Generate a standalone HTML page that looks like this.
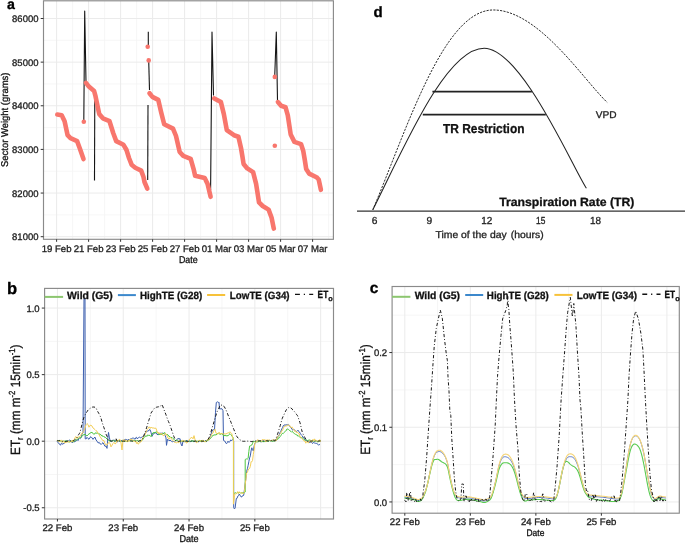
<!DOCTYPE html>
<html><head><meta charset="utf-8"><style>
html,body{margin:0;padding:0;background:#fff;}
svg{display:block;font-family:"Liberation Sans", sans-serif;text-rendering:geometricPrecision;will-change:transform;}
text{stroke-width:0.3px;}
</style></head><body>
<svg width="685" height="543" viewBox="0 0 685 543">
<rect width="685" height="543" fill="#fff"/>
<line x1="72.60" y1="0.8" x2="72.60" y2="239.3" stroke="#f4f4f4" stroke-width="0.8"/>
<line x1="104.60" y1="0.8" x2="104.60" y2="239.3" stroke="#f4f4f4" stroke-width="0.8"/>
<line x1="136.60" y1="0.8" x2="136.60" y2="239.3" stroke="#f4f4f4" stroke-width="0.8"/>
<line x1="168.60" y1="0.8" x2="168.60" y2="239.3" stroke="#f4f4f4" stroke-width="0.8"/>
<line x1="200.60" y1="0.8" x2="200.60" y2="239.3" stroke="#f4f4f4" stroke-width="0.8"/>
<line x1="232.60" y1="0.8" x2="232.60" y2="239.3" stroke="#f4f4f4" stroke-width="0.8"/>
<line x1="264.60" y1="0.8" x2="264.60" y2="239.3" stroke="#f4f4f4" stroke-width="0.8"/>
<line x1="296.60" y1="0.8" x2="296.60" y2="239.3" stroke="#f4f4f4" stroke-width="0.8"/>
<line x1="328.60" y1="0.8" x2="328.60" y2="239.3" stroke="#f4f4f4" stroke-width="0.8"/>
<line x1="43.5" y1="40.32" x2="333.4" y2="40.32" stroke="#f4f4f4" stroke-width="0.8"/>
<line x1="43.5" y1="83.96" x2="333.4" y2="83.96" stroke="#f4f4f4" stroke-width="0.8"/>
<line x1="43.5" y1="127.60" x2="333.4" y2="127.60" stroke="#f4f4f4" stroke-width="0.8"/>
<line x1="43.5" y1="171.24" x2="333.4" y2="171.24" stroke="#f4f4f4" stroke-width="0.8"/>
<line x1="43.5" y1="214.88" x2="333.4" y2="214.88" stroke="#f4f4f4" stroke-width="0.8"/>
<line x1="56.60" y1="0.8" x2="56.60" y2="239.3" stroke="#ebebeb" stroke-width="1"/>
<line x1="88.60" y1="0.8" x2="88.60" y2="239.3" stroke="#ebebeb" stroke-width="1"/>
<line x1="120.60" y1="0.8" x2="120.60" y2="239.3" stroke="#ebebeb" stroke-width="1"/>
<line x1="152.60" y1="0.8" x2="152.60" y2="239.3" stroke="#ebebeb" stroke-width="1"/>
<line x1="184.60" y1="0.8" x2="184.60" y2="239.3" stroke="#ebebeb" stroke-width="1"/>
<line x1="216.60" y1="0.8" x2="216.60" y2="239.3" stroke="#ebebeb" stroke-width="1"/>
<line x1="248.60" y1="0.8" x2="248.60" y2="239.3" stroke="#ebebeb" stroke-width="1"/>
<line x1="280.60" y1="0.8" x2="280.60" y2="239.3" stroke="#ebebeb" stroke-width="1"/>
<line x1="312.60" y1="0.8" x2="312.60" y2="239.3" stroke="#ebebeb" stroke-width="1"/>
<line x1="43.5" y1="18.50" x2="333.4" y2="18.50" stroke="#ebebeb" stroke-width="1"/>
<line x1="43.5" y1="62.14" x2="333.4" y2="62.14" stroke="#ebebeb" stroke-width="1"/>
<line x1="43.5" y1="105.78" x2="333.4" y2="105.78" stroke="#ebebeb" stroke-width="1"/>
<line x1="43.5" y1="149.42" x2="333.4" y2="149.42" stroke="#ebebeb" stroke-width="1"/>
<line x1="43.5" y1="193.06" x2="333.4" y2="193.06" stroke="#ebebeb" stroke-width="1"/>
<line x1="43.5" y1="236.70" x2="333.4" y2="236.70" stroke="#ebebeb" stroke-width="1"/>
<polyline points="83.80,121.70 84.70,11.00 86.00,82.00" stroke="#151515" stroke-width="1.1" fill="none" stroke-linejoin="round"/>
<polyline points="94.80,93.50 94.50,180.60" stroke="#151515" stroke-width="1.1" fill="none" stroke-linejoin="round"/>
<polyline points="147.70,180.00 148.00,105.00" stroke="#151515" stroke-width="1.1" fill="none" stroke-linejoin="round"/>
<polyline points="148.30,31.70 148.30,46.70" stroke="#151515" stroke-width="1.1" fill="none" stroke-linejoin="round"/>
<polyline points="148.70,60.00 149.50,90.00" stroke="#151515" stroke-width="1.1" fill="none" stroke-linejoin="round"/>
<polyline points="210.60,190.00 212.00,32.00 213.50,95.50" stroke="#151515" stroke-width="1.1" fill="none" stroke-linejoin="round"/>
<polyline points="274.70,77.00 276.30,32.00 277.50,100.00" stroke="#151515" stroke-width="1.1" fill="none" stroke-linejoin="round"/>
<polyline points="57.30,114.60 61.70,115.30 64.60,121.20 67.60,135.20 70.50,138.20 77.10,141.10 80.10,149.20 83.50,159.10" stroke="#F8766D" stroke-width="4.6" fill="none" stroke-linejoin="round" stroke-linecap="round"/>
<polyline points="86.00,82.90 88.90,86.60 94.10,91.00 95.50,96.20 99.20,113.90 102.90,118.30 109.50,121.20 113.20,133.00 116.20,141.10 123.50,144.80 126.50,150.00 129.00,158.00 131.60,164.70 135.30,167.70 141.20,170.60 143.50,177.00 144.50,182.00 147.30,188.60" stroke="#F8766D" stroke-width="4.6" fill="none" stroke-linejoin="round" stroke-linecap="round"/>
<polyline points="149.50,93.30 152.40,96.90 158.30,99.90 161.20,112.40 164.20,124.20 173.00,128.60 176.00,136.00 179.70,152.00 183.30,155.90 190.70,158.80 193.60,169.10 195.10,175.80 204.70,178.00 207.60,183.90 210.60,196.80" stroke="#F8766D" stroke-width="4.6" fill="none" stroke-linejoin="round" stroke-linecap="round"/>
<polyline points="214.30,98.40 220.90,102.10 223.80,113.90 226.80,130.10 234.00,135.20 238.40,136.70 241.00,148.00 242.50,157.00 243.60,164.00 247.30,168.40 253.10,172.10 256.10,183.90 259.00,202.30 262.70,206.00 268.60,209.60 271.60,217.70 273.80,228.60" stroke="#F8766D" stroke-width="4.6" fill="none" stroke-linejoin="round" stroke-linecap="round"/>
<polyline points="277.90,102.10 281.10,105.80 285.50,107.20 287.80,115.30 290.70,134.50 294.40,141.90 301.00,144.10 303.20,150.70 304.80,160.00 306.20,169.10 309.10,173.60 316.50,177.20 318.70,179.50 320.90,189.80" stroke="#F8766D" stroke-width="4.6" fill="none" stroke-linejoin="round" stroke-linecap="round"/>
<circle cx="83.8" cy="121.7" r="2.3" fill="#F8766D"/>
<circle cx="147.7" cy="46.7" r="2.3" fill="#F8766D"/>
<circle cx="148.7" cy="60.4" r="2.3" fill="#F8766D"/>
<circle cx="274.8" cy="76.9" r="2.3" fill="#F8766D"/>
<circle cx="274.8" cy="145.8" r="2.3" fill="#F8766D"/>
<rect x="43.5" y="0.8" width="289.90" height="238.50" fill="none" stroke="#8a8a8a" stroke-width="1.15"/>
<line x1="40.70" y1="18.50" x2="43.50" y2="18.50" stroke="#333" stroke-width="1"/>
<text x="38.50" y="22.20" text-anchor="end" font-size="9.5" fill="#222" stroke="#222">86000</text>
<line x1="40.70" y1="62.14" x2="43.50" y2="62.14" stroke="#333" stroke-width="1"/>
<text x="38.50" y="65.84" text-anchor="end" font-size="9.5" fill="#222" stroke="#222">85000</text>
<line x1="40.70" y1="105.78" x2="43.50" y2="105.78" stroke="#333" stroke-width="1"/>
<text x="38.50" y="109.48" text-anchor="end" font-size="9.5" fill="#222" stroke="#222">84000</text>
<line x1="40.70" y1="149.42" x2="43.50" y2="149.42" stroke="#333" stroke-width="1"/>
<text x="38.50" y="153.12" text-anchor="end" font-size="9.5" fill="#222" stroke="#222">83000</text>
<line x1="40.70" y1="193.06" x2="43.50" y2="193.06" stroke="#333" stroke-width="1"/>
<text x="38.50" y="196.76" text-anchor="end" font-size="9.5" fill="#222" stroke="#222">82000</text>
<line x1="40.70" y1="236.70" x2="43.50" y2="236.70" stroke="#333" stroke-width="1"/>
<text x="38.50" y="240.40" text-anchor="end" font-size="9.5" fill="#222" stroke="#222">81000</text>
<line x1="56.60" y1="239.3" x2="56.60" y2="241.8" stroke="#333" stroke-width="1"/>
<text x="56.60" y="251.9" text-anchor="middle" font-size="9.6" fill="#222" stroke="#222">19 Feb</text>
<line x1="88.60" y1="239.3" x2="88.60" y2="241.8" stroke="#333" stroke-width="1"/>
<text x="88.60" y="251.9" text-anchor="middle" font-size="9.6" fill="#222" stroke="#222">21 Feb</text>
<line x1="120.60" y1="239.3" x2="120.60" y2="241.8" stroke="#333" stroke-width="1"/>
<text x="120.60" y="251.9" text-anchor="middle" font-size="9.6" fill="#222" stroke="#222">23 Feb</text>
<line x1="152.60" y1="239.3" x2="152.60" y2="241.8" stroke="#333" stroke-width="1"/>
<text x="152.60" y="251.9" text-anchor="middle" font-size="9.6" fill="#222" stroke="#222">25 Feb</text>
<line x1="184.60" y1="239.3" x2="184.60" y2="241.8" stroke="#333" stroke-width="1"/>
<text x="184.60" y="251.9" text-anchor="middle" font-size="9.6" fill="#222" stroke="#222">27 Feb</text>
<line x1="216.60" y1="239.3" x2="216.60" y2="241.8" stroke="#333" stroke-width="1"/>
<text x="216.60" y="251.9" text-anchor="middle" font-size="9.6" fill="#222" stroke="#222">01 Mar</text>
<line x1="248.60" y1="239.3" x2="248.60" y2="241.8" stroke="#333" stroke-width="1"/>
<text x="248.60" y="251.9" text-anchor="middle" font-size="9.6" fill="#222" stroke="#222">03 Mar</text>
<line x1="280.60" y1="239.3" x2="280.60" y2="241.8" stroke="#333" stroke-width="1"/>
<text x="280.60" y="251.9" text-anchor="middle" font-size="9.6" fill="#222" stroke="#222">05 Mar</text>
<line x1="312.60" y1="239.3" x2="312.60" y2="241.8" stroke="#333" stroke-width="1"/>
<text x="312.60" y="251.9" text-anchor="middle" font-size="9.6" fill="#222" stroke="#222">07 Mar</text>
<text x="178.92" y="262.55" font-size="9.90" font-weight="normal" textLength="18.77" lengthAdjust="spacingAndGlyphs" fill="#111" stroke="#111">Date</text>
<text x="6.92" y="9.00" font-size="14.20" font-weight="bold" fill="#000" stroke="#000">a</text>
<text transform="translate(8.0,119.8) rotate(-90)" text-anchor="middle" font-size="9.8" fill="#111" stroke="#111" textLength="94.5" lengthAdjust="spacingAndGlyphs">Sector Weight (grams)</text>
<line x1="357" y1="211.2" x2="685" y2="211.2" stroke="#333" stroke-width="1.3"/>
<path d="M372.80,209.80 C407.95,126.41 443.81,9.97 493.32,9.97 C538.58,9.97 584.10,80.59 607.20,102.40" fill="none" stroke="#222" stroke-width="0.95" stroke-dasharray="2.2,1.2"/>
<path d="M372.80,209.80 C402.80,150.27 445.37,48.17 484.18,48.17 C521.37,48.17 573.63,169.50 586.40,188.30" fill="none" stroke="#222" stroke-width="1.05"/>
<line x1="432.4" y1="91.6" x2="531.9" y2="91.6" stroke="#222" stroke-width="1.8"/>
<line x1="422.8" y1="114.7" x2="545.8" y2="114.7" stroke="#222" stroke-width="1.8"/>
<text x="443.02" y="132.85" font-size="13.00" font-weight="bold" textLength="81.46" lengthAdjust="spacingAndGlyphs" fill="#111" stroke="#111">TR Restriction</text>
<text x="499.18" y="205.50" font-size="11.95" font-weight="bold" textLength="135.21" lengthAdjust="spacingAndGlyphs" fill="#111" stroke="#111">Transpiration Rate (TR)</text>
<text x="595.84" y="117.55" font-size="9.70" font-weight="normal" textLength="20.84" lengthAdjust="spacingAndGlyphs" fill="#222" stroke="#222">VPD</text>
<text x="371.84" y="223.55" font-size="10.20" font-weight="normal" fill="#222" stroke="#222">6</text>
<text x="426.50" y="223.55" font-size="10.20" font-weight="normal" fill="#222" stroke="#222">9</text>
<text x="481.16" y="223.55" font-size="10.20" font-weight="normal" textLength="11.06" lengthAdjust="spacingAndGlyphs" fill="#222" stroke="#222">12</text>
<text x="536.00" y="223.55" font-size="10.20" font-weight="normal" textLength="9.33" lengthAdjust="spacingAndGlyphs" fill="#222" stroke="#222">15</text>
<text x="589.98" y="223.55" font-size="10.20" font-weight="normal" textLength="11.04" lengthAdjust="spacingAndGlyphs" fill="#222" stroke="#222">18</text>
<text x="435.58" y="238.45" font-size="10.00" font-weight="normal" textLength="108.05" lengthAdjust="spacingAndGlyphs" fill="#222" stroke="#222">Time of the day <tspan dx="1.3">(hours)</tspan></text>
<text x="373.50" y="17.00" font-size="15.00" font-weight="bold" fill="#000" stroke="#000">d</text>
<line x1="90.35" y1="288.4" x2="90.35" y2="519.0" stroke="#f4f4f4" stroke-width="0.8"/>
<line x1="156.15" y1="288.4" x2="156.15" y2="519.0" stroke="#f4f4f4" stroke-width="0.8"/>
<line x1="221.95" y1="288.4" x2="221.95" y2="519.0" stroke="#f4f4f4" stroke-width="0.8"/>
<line x1="287.75" y1="288.4" x2="287.75" y2="519.0" stroke="#f4f4f4" stroke-width="0.8"/>
<line x1="44.6" y1="341.35" x2="333.5" y2="341.35" stroke="#f4f4f4" stroke-width="0.8"/>
<line x1="44.6" y1="407.92" x2="333.5" y2="407.92" stroke="#f4f4f4" stroke-width="0.8"/>
<line x1="44.6" y1="474.48" x2="333.5" y2="474.48" stroke="#f4f4f4" stroke-width="0.8"/>
<line x1="57.45" y1="288.4" x2="57.45" y2="519.0" stroke="#ebebeb" stroke-width="1"/>
<line x1="123.25" y1="288.4" x2="123.25" y2="519.0" stroke="#ebebeb" stroke-width="1"/>
<line x1="189.05" y1="288.4" x2="189.05" y2="519.0" stroke="#ebebeb" stroke-width="1"/>
<line x1="254.85" y1="288.4" x2="254.85" y2="519.0" stroke="#ebebeb" stroke-width="1"/>
<line x1="320.65" y1="288.4" x2="320.65" y2="519.0" stroke="#ebebeb" stroke-width="1"/>
<line x1="44.6" y1="308.07" x2="333.5" y2="308.07" stroke="#ebebeb" stroke-width="1"/>
<line x1="44.6" y1="374.63" x2="333.5" y2="374.63" stroke="#ebebeb" stroke-width="1"/>
<line x1="44.6" y1="441.20" x2="333.5" y2="441.20" stroke="#ebebeb" stroke-width="1"/>
<line x1="44.6" y1="507.76" x2="333.5" y2="507.76" stroke="#ebebeb" stroke-width="1"/>
<line x1="437.56" y1="286.5" x2="437.56" y2="513.2" stroke="#f4f4f4" stroke-width="0.8"/>
<line x1="503.10" y1="286.5" x2="503.10" y2="513.2" stroke="#f4f4f4" stroke-width="0.8"/>
<line x1="568.62" y1="286.5" x2="568.62" y2="513.2" stroke="#f4f4f4" stroke-width="0.8"/>
<line x1="634.15" y1="286.5" x2="634.15" y2="513.2" stroke="#f4f4f4" stroke-width="0.8"/>
<line x1="392.1" y1="464.60" x2="679.3" y2="464.60" stroke="#f4f4f4" stroke-width="0.8"/>
<line x1="392.1" y1="389.90" x2="679.3" y2="389.90" stroke="#f4f4f4" stroke-width="0.8"/>
<line x1="392.1" y1="315.20" x2="679.3" y2="315.20" stroke="#f4f4f4" stroke-width="0.8"/>
<line x1="404.80" y1="286.5" x2="404.80" y2="513.2" stroke="#ebebeb" stroke-width="1"/>
<line x1="470.33" y1="286.5" x2="470.33" y2="513.2" stroke="#ebebeb" stroke-width="1"/>
<line x1="535.86" y1="286.5" x2="535.86" y2="513.2" stroke="#ebebeb" stroke-width="1"/>
<line x1="601.39" y1="286.5" x2="601.39" y2="513.2" stroke="#ebebeb" stroke-width="1"/>
<line x1="666.92" y1="286.5" x2="666.92" y2="513.2" stroke="#ebebeb" stroke-width="1"/>
<line x1="392.1" y1="501.95" x2="679.3" y2="501.95" stroke="#ebebeb" stroke-width="1"/>
<line x1="392.1" y1="427.25" x2="679.3" y2="427.25" stroke="#ebebeb" stroke-width="1"/>
<line x1="392.1" y1="352.55" x2="679.3" y2="352.55" stroke="#ebebeb" stroke-width="1"/>
<polyline points="57.00,441.22 57.70,442.14 58.40,442.93 59.10,443.90 59.80,444.23 60.50,445.26 61.33,443.32 62.17,443.77 63.00,444.30 64.00,443.02 65.00,442.72 65.80,441.00 66.60,441.34 67.40,440.64 68.20,440.88 69.00,440.63 69.75,440.00 70.50,440.74 71.25,441.23 72.00,442.75 72.75,442.35 73.50,441.14 74.25,442.16 75.00,440.85 75.75,441.34 76.50,440.08 77.25,439.48 78.00,440.67 78.75,438.73 79.50,437.99 80.25,438.62 81.00,437.67 82.00,434.12 83.00,432.83 84.00,298.57 85.00,298.82 85.20,438.77 86.10,438.94 87.00,437.34 88.00,438.59 89.00,439.21 90.00,437.39 91.00,436.75 92.00,437.90 93.00,439.36 94.00,437.97 95.00,437.14 96.00,439.94 97.00,441.11 98.00,442.82 99.00,442.71 100.00,443.16 101.00,444.57 102.00,443.47 103.00,442.67 104.00,444.47 105.00,446.37 106.00,445.95 107.00,448.36 107.75,438.89 108.50,432.45 109.25,437.12 110.00,440.13 110.71,441.52 111.43,440.76 112.14,441.14 112.86,440.12 113.57,440.18 114.29,440.43 115.00,441.82 115.71,440.45 116.43,441.46 117.14,441.77 117.86,441.80 118.57,440.72 119.29,440.74 120.00,441.04 120.72,441.37 121.44,440.04 122.16,441.07 122.88,441.04 123.59,441.02 124.31,439.42 125.03,440.93 125.75,439.26 126.47,439.59 127.19,439.95 127.91,440.38 128.62,439.21 129.34,440.14 130.06,439.33 130.78,438.79 131.50,438.67 132.22,438.29 132.94,437.99 133.66,437.99 134.38,438.84 135.09,439.27 135.81,437.64 136.53,437.31 137.25,438.88 137.97,437.94 138.69,437.58 139.41,437.15 140.12,437.67 140.84,437.96 141.56,437.17 142.28,436.98 143.00,436.20 143.75,436.50 144.50,433.66 145.25,433.24 146.00,432.61 146.80,430.74 147.60,431.22 148.40,431.01 149.20,429.83 150.00,429.52 151.00,432.29 152.00,436.38 153.00,434.12 154.00,433.62 155.00,432.63 156.00,432.92 157.00,434.40 158.00,434.63 158.75,434.61 159.50,433.42 160.25,433.23 161.00,433.41 161.75,433.21 162.50,433.12 163.25,433.58 164.00,433.36 165.00,435.28 166.00,437.88 166.50,445.33 167.50,439.23 168.25,440.00 169.00,440.71 170.00,440.26 171.00,440.59 171.75,441.63 172.50,441.91 173.25,441.13 174.00,442.01 174.80,441.39 175.60,440.65 176.40,440.00 177.20,439.57 178.00,438.25 179.00,439.12 180.00,438.61 181.00,443.97 182.00,445.99 183.00,441.34 183.75,440.63 184.50,441.80 185.25,441.27 186.00,441.15 186.70,440.12 187.40,441.08 188.10,440.55 188.80,441.31 189.50,440.93 190.20,441.57 190.90,441.27 191.60,441.54 192.30,440.73 193.00,441.26 193.70,441.43 194.40,441.59 195.10,440.73 195.80,441.62 196.50,441.67 197.20,441.34 197.90,441.86 198.60,441.82 199.30,441.03 200.00,441.05 200.70,440.40 201.40,441.61 202.10,441.79 202.80,440.96 203.50,441.34 204.20,441.40 204.90,441.41 205.60,440.41 206.30,441.50 207.00,441.15 207.75,440.30 208.50,438.86 209.25,438.22 210.00,437.49 211.00,434.25 212.00,431.40 212.83,429.82 213.67,429.72 214.50,429.89 215.50,412.27 216.30,402.49 217.50,401.83 218.25,402.49 219.00,402.18 219.50,408.95 220.00,409.01 221.00,408.70 222.00,408.84 223.00,410.67 223.50,440.43 224.25,440.95 225.00,441.16 225.75,442.94 226.50,443.78 227.25,442.70 228.00,441.16 229.00,442.53 230.00,441.23 230.75,439.85 231.50,440.83 232.50,439.60 233.70,440.84 233.70,507.61 234.40,508.90 235.10,508.07 236.30,498.56 237.05,498.33 237.80,496.12 238.55,495.66 239.30,494.01 240.03,495.18 240.77,496.59 241.50,497.07 242.23,495.85 242.97,496.06 243.70,495.26 244.45,489.61 245.20,484.06 245.90,478.22 246.60,471.51 247.37,468.79 248.13,465.38 248.90,461.30 249.60,457.88 250.30,455.91 251.05,450.95 251.80,447.79 252.55,449.72 253.30,450.91 254.05,446.40 254.80,443.63 256.00,441.70 256.70,440.78 257.40,440.88 258.10,440.51 258.80,440.62 259.50,441.85 260.20,440.78 260.90,441.83 261.60,441.74 262.30,441.17 263.00,440.57 263.70,441.87 264.40,440.99 265.10,440.85 265.80,440.67 266.50,441.87 267.20,440.99 267.90,440.62 268.60,440.96 269.30,440.32 270.00,441.22 270.71,440.79 271.42,440.41 272.13,441.17 272.84,441.14 273.56,439.57 274.27,440.39 274.98,439.82 275.69,440.89 276.40,440.51 277.12,438.14 277.84,436.78 278.56,435.18 279.28,435.28 280.00,432.63 280.85,431.27 281.70,429.10 282.55,427.49 283.40,425.49 284.20,425.64 285.00,424.41 285.80,425.47 286.60,424.54 287.40,424.86 288.20,424.41 288.98,425.22 289.77,426.52 290.55,427.29 291.33,427.98 292.12,429.56 292.90,430.16 293.64,429.32 294.38,429.85 295.11,430.37 295.85,431.35 296.59,431.45 297.32,430.98 298.06,430.18 298.80,431.70 299.50,432.01 300.20,433.22 300.90,434.39 301.60,435.20 302.30,435.87 303.00,437.58 303.70,437.57 304.40,438.53 305.10,440.29 305.80,440.05 306.58,440.53 307.37,441.79 308.15,440.72 308.93,442.41 309.72,442.45 310.50,442.28 311.25,442.12 312.00,443.11 312.75,443.44 313.50,442.16 314.25,442.86 315.00,443.09 315.71,443.34 316.43,443.38 317.14,443.40 317.86,444.53 318.57,445.28 319.29,444.28 320.00,444.91" stroke="#3A5DAE" stroke-width="1.0" fill="none" stroke-linejoin="round" />
<polyline points="57.00,440.63 57.73,440.47 58.45,440.90 59.18,440.59 59.91,440.48 60.64,440.98 61.36,441.72 62.09,441.58 62.82,441.55 63.55,440.82 64.27,441.28 65.00,440.94 65.73,440.81 66.45,440.74 67.18,440.92 67.91,441.94 68.64,441.82 69.36,441.82 70.09,441.83 70.82,441.00 71.55,441.19 72.27,441.66 73.00,441.82 73.75,441.62 74.50,441.28 75.25,439.80 76.00,440.15 76.80,439.84 77.60,439.21 78.40,438.35 79.20,438.36 80.00,437.43 80.75,437.86 81.50,437.01 82.25,435.82 83.00,434.72 84.00,435.07 85.00,434.10 86.00,435.29 87.00,435.99 88.00,434.76 89.00,433.88 90.00,433.39 91.00,432.40 92.00,432.53 93.00,433.23 94.00,434.44 95.00,433.11 96.00,432.86 97.00,433.43 98.00,432.69 99.00,433.80 100.00,434.46 101.00,434.78 102.00,436.20 103.00,435.82 104.00,436.88 105.00,437.08 106.00,438.19 107.00,438.69 108.00,439.80 109.00,440.85 110.00,440.75 110.71,441.08 111.42,441.57 112.13,440.44 112.84,440.39 113.56,440.62 114.27,441.37 114.98,441.16 115.69,440.63 116.40,440.76 117.11,440.55 117.82,440.94 118.53,440.36 119.24,441.28 119.96,441.55 120.67,441.64 121.38,441.33 122.09,441.64 122.80,440.33 123.51,440.70 124.22,441.65 124.93,441.39 125.64,440.87 126.36,441.62 127.07,441.17 127.78,441.45 128.49,440.71 129.20,440.57 129.91,440.92 130.62,440.49 131.33,440.83 132.04,441.65 132.76,440.76 133.47,440.31 134.18,440.36 134.89,440.54 135.60,441.40 136.31,440.81 137.02,440.71 137.73,440.44 138.44,441.67 139.16,440.89 139.87,440.59 140.58,440.38 141.29,440.38 142.00,440.54 143.00,439.25 143.75,437.76 144.50,436.86 145.25,436.74 146.00,435.65 146.75,436.45 147.50,434.97 148.25,435.29 149.00,435.38 150.00,435.37 151.00,436.68 152.00,434.47 153.00,432.64 154.00,432.87 155.00,432.35 156.00,432.39 157.00,431.65 158.00,433.55 159.00,434.46 160.00,434.50 161.00,434.34 162.00,434.16 163.00,433.64 164.00,433.09 165.00,432.62 166.00,434.52 167.00,434.50 168.00,434.87 169.00,436.60 170.00,436.59 171.00,437.69 172.00,437.36 173.00,438.56 174.00,439.22 175.00,440.41 175.75,440.59 176.50,440.49 177.25,440.18 178.00,440.60 178.71,441.52 179.41,441.56 180.12,441.59 180.83,440.77 181.54,441.22 182.24,441.42 182.95,441.20 183.66,441.44 184.37,441.04 185.07,441.22 185.78,441.26 186.49,440.68 187.20,441.59 187.90,441.64 188.61,440.40 189.32,441.66 190.02,441.65 190.73,441.24 191.44,440.36 192.15,441.56 192.85,440.48 193.56,441.66 194.27,441.23 194.98,440.38 195.68,440.53 196.39,441.19 197.10,441.10 197.80,441.35 198.51,441.60 199.22,440.61 199.93,440.30 200.63,441.59 201.34,440.32 202.05,441.53 202.76,440.46 203.46,441.43 204.17,441.40 204.88,441.53 205.59,441.07 206.29,441.53 207.00,440.58 207.71,440.67 208.43,439.62 209.14,439.83 209.86,439.10 210.57,438.10 211.29,437.61 212.00,436.34 213.00,435.35 214.00,435.13 215.00,434.73 216.00,435.01 217.00,434.15 218.00,432.99 219.00,433.56 220.00,434.37 221.00,434.03 222.00,433.31 223.00,435.22 224.00,435.96 225.00,435.17 226.00,436.06 227.00,435.58 228.00,435.90 229.00,434.49 230.00,433.63 231.00,434.73 232.00,436.15 233.00,437.43 233.50,440.46 233.50,492.97 234.23,493.34 234.95,492.82 235.68,492.71 236.41,493.30 237.13,493.19 237.86,492.19 238.59,493.33 239.31,492.37 240.04,492.52 240.77,493.27 241.49,492.69 242.22,493.22 242.95,492.33 243.67,493.32 244.40,492.35 245.20,492.01 245.20,459.59 245.92,459.00 246.65,458.91 247.38,459.04 248.10,458.39 248.85,451.51 249.60,446.04 250.33,445.86 251.07,445.28 251.80,445.10 252.55,443.33 253.30,441.31 254.15,441.34 255.00,441.99 255.71,441.28 256.43,441.84 257.14,442.13 257.86,441.61 258.57,441.66 259.29,441.55 260.00,441.11 260.71,441.94 261.43,441.29 262.14,441.90 262.86,441.03 263.57,441.80 264.29,441.67 265.00,441.41 265.71,441.15 266.43,440.71 267.14,441.58 267.86,440.99 268.57,441.39 269.29,440.63 270.00,440.54 270.71,440.61 271.43,441.52 272.14,440.62 272.86,441.62 273.57,440.86 274.29,441.12 275.00,440.79 275.71,440.60 276.43,439.29 277.14,439.15 277.86,439.32 278.57,437.69 279.29,437.79 280.00,436.76 280.80,435.72 281.60,434.33 282.40,433.33 283.20,433.63 284.00,432.46 284.72,431.80 285.44,431.19 286.16,430.77 286.88,429.04 287.60,429.02 288.45,429.42 289.30,430.05 290.15,431.09 291.00,431.36 291.75,432.16 292.50,431.46 293.25,432.71 294.00,433.25 294.75,433.84 295.50,434.17 296.25,434.96 297.00,434.72 297.75,436.10 298.50,435.87 299.25,436.64 300.00,437.56 300.73,437.66 301.45,437.48 302.18,437.75 302.90,438.26 303.62,439.05 304.35,439.95 305.07,440.18 305.80,439.86 306.57,439.99 307.35,440.69 308.12,440.07 308.90,440.38 309.68,439.94 310.45,440.31 311.23,440.93 312.00,441.27 312.71,441.18 313.42,440.84 314.12,441.68 314.83,441.24 315.54,440.60 316.25,440.49 316.96,441.78 317.67,441.82 318.38,441.74 319.08,441.31 319.79,440.92 320.50,440.63" stroke="#4CC63F" stroke-width="1.0" fill="none" stroke-linejoin="round" />
<polyline points="57.00,440.32 57.75,441.20 58.50,440.83 59.25,441.52 60.00,441.66 60.75,440.29 61.50,440.23 62.25,442.46 63.00,441.04 63.75,441.06 64.50,443.12 65.25,441.84 66.00,442.87 66.70,441.84 67.40,442.16 68.10,440.79 68.80,441.95 69.50,442.46 70.20,441.46 70.90,441.93 71.60,441.65 72.30,439.97 73.00,441.67 74.00,439.74 75.00,437.48 76.00,436.53 77.00,438.45 77.75,436.93 78.50,437.07 79.25,436.98 80.00,436.06 80.75,435.72 81.50,433.48 82.25,433.66 83.00,431.86 84.00,430.63 85.00,427.99 86.00,424.70 87.00,423.55 88.00,424.51 89.00,427.21 90.00,425.33 91.00,425.33 92.00,425.98 93.00,428.02 94.00,428.70 95.00,429.61 96.00,430.72 97.00,431.22 98.00,433.55 99.00,434.47 100.00,436.62 101.00,437.93 102.00,439.78 103.00,440.45 104.00,440.62 105.00,443.94 106.00,444.71 107.00,445.05 108.00,443.18 109.00,442.56 110.00,443.25 111.00,446.86 112.00,445.19 113.00,443.44 114.00,442.36 115.00,443.92 116.00,443.27 117.00,439.93 117.75,441.53 118.50,440.27 119.25,439.34 120.00,439.46 121.00,442.70 122.00,449.97 123.00,439.81 123.73,441.21 124.45,439.64 125.18,441.30 125.91,440.20 126.64,441.54 127.36,441.70 128.09,440.38 128.82,441.57 129.55,439.69 130.27,438.99 131.00,440.26 131.80,439.18 132.60,440.01 133.40,440.96 134.20,441.89 135.00,441.11 135.75,441.06 136.50,443.46 137.25,442.27 138.00,444.19 138.75,443.78 139.50,442.18 140.25,442.15 141.00,442.05 142.00,439.87 143.00,437.25 143.75,435.90 144.50,434.81 145.25,434.40 146.00,432.02 147.00,429.82 148.00,428.57 148.75,427.07 149.50,426.98 150.25,428.49 151.00,427.05 152.00,428.13 153.00,427.73 154.00,428.28 155.00,428.21 156.00,428.25 157.00,431.30 158.00,433.34 159.00,432.36 160.00,434.33 161.00,433.41 162.00,433.47 163.00,435.62 164.00,435.54 165.00,433.62 166.00,433.76 167.00,435.86 168.00,437.96 169.00,439.20 170.00,437.35 171.00,437.89 172.00,439.74 173.00,440.53 174.00,441.65 175.00,442.51 175.75,442.53 176.50,443.00 177.25,442.11 178.00,442.18 178.75,442.83 179.50,440.52 180.25,441.56 181.00,441.61 181.75,440.51 182.50,440.28 183.25,441.79 184.00,440.32 185.00,441.19 186.00,442.83 187.00,443.01 188.00,440.96 189.00,440.04 190.00,438.57 191.00,437.87 192.00,437.34 193.00,438.92 194.00,435.64 195.00,439.58 196.00,442.39 196.80,442.80 197.60,441.47 198.40,440.69 199.20,440.21 200.00,441.08 200.70,440.20 201.40,441.80 202.10,441.88 202.80,440.18 203.50,440.42 204.20,441.80 204.90,441.37 205.60,441.80 206.30,440.60 207.00,440.04 207.75,439.71 208.50,440.26 209.25,438.16 210.00,437.60 210.75,436.28 211.50,434.79 212.25,433.26 213.00,433.09 214.00,430.36 215.00,429.21 216.00,433.15 217.00,433.49 218.00,434.27 219.00,432.33 220.00,433.17 221.00,434.11 222.00,433.28 223.00,434.14 224.00,433.88 225.00,433.92 226.00,434.05 227.00,433.20 228.00,433.09 229.00,432.54 230.00,431.88 231.00,432.73 231.75,433.70 232.50,436.81 233.40,439.82 233.40,504.15 234.60,495.50 234.80,493.90 235.54,493.83 236.28,493.84 237.02,493.00 237.75,491.53 238.49,493.44 239.23,491.95 239.97,492.28 240.71,493.22 241.45,492.86 242.18,492.58 242.92,493.94 243.66,493.09 244.40,492.39 245.20,484.06 245.90,479.74 246.60,472.84 247.35,472.51 248.10,470.26 248.85,468.74 249.60,468.49 250.35,466.27 251.10,461.65 251.80,461.81 252.50,460.70 253.30,454.50 254.05,450.09 254.80,443.52 256.00,441.33 256.70,441.92 257.40,439.78 258.10,440.33 258.80,440.30 259.50,440.95 260.20,440.65 260.90,440.75 261.60,441.52 262.30,439.48 263.00,439.59 263.70,439.75 264.40,439.72 265.10,439.55 265.80,441.88 266.50,441.55 267.20,439.52 267.90,440.58 268.60,440.07 269.30,440.04 270.00,440.11 270.75,440.88 271.50,440.73 272.25,440.14 273.00,439.70 273.75,440.05 274.50,439.52 275.25,440.64 276.00,441.06 276.80,438.89 277.60,436.81 278.40,435.76 279.20,434.97 280.00,434.27 280.80,433.33 281.60,430.89 282.40,430.58 283.20,428.72 284.00,426.82 284.84,426.21 285.68,426.07 286.52,426.15 287.36,424.95 288.20,425.20 288.96,425.26 289.72,425.36 290.48,426.77 291.24,427.85 292.00,426.89 292.71,428.38 293.43,428.95 294.14,430.70 294.86,431.42 295.57,430.53 296.29,432.46 297.00,432.76 297.71,432.24 298.43,433.62 299.14,433.59 299.86,436.24 300.57,436.71 301.29,438.15 302.00,438.76 302.76,439.44 303.52,440.61 304.28,441.17 305.04,440.97 305.80,443.23 306.64,441.51 307.48,441.67 308.32,443.11 309.16,441.02 310.00,440.94 310.74,440.60 311.49,442.27 312.23,440.09 312.97,439.33 313.71,441.10 314.46,438.87 315.20,440.39 315.96,440.17 316.71,440.80 317.47,441.32 318.23,440.56 318.99,441.35 319.74,439.58 320.50,441.70" stroke="#F4CF5A" stroke-width="1.0" fill="none" stroke-linejoin="round" />
<polyline points="57.00,440.65 57.73,440.78 58.45,440.71 59.18,440.66 59.91,440.59 60.64,440.98 61.36,441.04 62.09,441.26 62.82,441.19 63.55,441.45 64.27,441.32 65.00,441.63 65.75,441.56 66.50,441.32 67.25,441.27 68.00,441.26 68.75,440.95 69.50,441.00 70.25,441.07 71.00,440.75 71.75,440.88 72.50,440.79 73.25,440.78 74.00,440.46 74.75,439.54 75.50,439.11 76.25,438.42 77.00,437.51 77.75,436.05 78.50,434.81 79.25,433.78 80.00,432.40 81.00,428.46 82.00,424.09 83.00,420.37 84.00,417.05 85.00,414.94 86.00,413.20 87.00,411.75 88.00,410.06 88.75,409.46 89.50,408.87 90.25,408.30 91.00,407.77 91.75,407.17 92.50,407.09 93.25,407.08 94.00,406.81 95.00,407.48 96.00,407.80 97.00,410.15 98.00,412.04 98.90,413.55 99.80,415.51 100.70,417.12 102.00,421.83 103.00,424.96 104.00,427.81 105.00,430.82 106.00,434.15 107.00,436.13 108.00,439.78 109.00,440.60 110.00,440.78 110.80,440.87 111.60,441.18 112.40,441.10 113.20,440.92 114.00,440.92 115.00,439.68 116.00,438.30 117.00,441.21 117.73,440.82 118.45,440.93 119.18,441.11 119.91,440.97 120.64,441.23 121.36,440.92 122.09,441.22 122.82,441.24 123.55,441.13 124.27,441.22 125.00,441.02 125.71,441.17 126.43,441.18 127.14,441.04 127.86,440.99 128.57,441.10 129.29,440.97 130.00,440.79 130.71,441.08 131.43,440.90 132.14,440.97 132.86,441.14 133.57,440.86 134.29,440.73 135.00,440.76 135.71,441.00 136.43,440.93 137.14,440.86 137.86,440.95 138.57,441.20 139.29,440.92 140.00,440.94 141.00,440.68 142.00,440.09 142.75,438.15 143.50,436.47 144.25,434.73 145.00,432.82 145.75,430.40 146.50,427.88 147.25,425.63 148.00,422.94 148.75,420.57 149.50,418.25 150.25,415.76 151.00,412.99 151.80,411.95 152.60,410.72 153.40,409.63 154.20,408.58 155.00,407.64 155.71,407.65 156.43,407.24 157.14,406.94 157.86,407.02 158.57,406.76 159.29,406.62 160.00,406.88 161.00,405.47 162.00,404.57 163.00,406.95 164.00,409.71 165.00,412.22 166.00,414.82 167.00,417.81 167.75,419.94 168.50,421.59 169.25,423.23 170.00,425.14 171.00,428.18 172.00,431.03 173.00,433.99 174.00,436.80 175.00,439.14 176.00,441.30 176.70,441.51 177.41,441.54 178.11,441.30 178.82,441.49 179.52,441.25 180.23,441.20 180.93,441.45 181.64,441.40 182.34,441.59 183.05,441.49 183.75,441.50 184.45,441.20 185.16,441.49 185.86,441.16 186.57,441.35 187.27,441.53 187.98,441.55 188.68,441.54 189.39,441.31 190.09,441.37 190.80,441.43 191.50,441.10 192.20,441.43 192.91,441.47 193.61,441.23 194.32,441.35 195.02,441.20 195.73,441.07 196.43,441.25 197.14,440.96 197.84,441.26 198.55,441.40 199.25,441.07 199.95,441.32 200.66,440.94 201.36,441.24 202.07,441.00 202.77,441.29 203.48,441.07 204.18,441.26 204.89,440.84 205.59,440.78 206.30,441.12 207.00,441.09 208.00,439.54 209.00,437.77 210.00,434.79 211.00,431.89 212.00,428.25 213.00,425.20 214.00,421.67 215.00,418.26 216.00,415.15 217.00,411.95 218.00,409.78 219.00,408.07 220.00,405.32 221.00,405.24 222.00,404.98 223.00,405.74 224.00,406.29 225.00,407.99 226.00,409.96 227.00,412.26 228.00,414.96 229.00,417.32 230.00,419.85 231.00,422.30 232.00,424.99 233.00,427.44 234.00,429.85 235.00,432.33 236.00,435.00 237.00,436.70 238.00,438.00 239.00,438.83 240.00,439.87 241.00,440.35 242.00,441.01 242.75,441.27 243.50,441.31 244.25,441.23 245.00,441.38 245.75,441.29 246.50,441.20 247.25,441.06 248.00,441.24 248.80,441.17 249.60,441.30 250.40,441.43 251.20,441.50 252.00,441.67 252.75,441.35 253.50,441.33 254.25,441.38 255.00,440.88 255.72,441.02 256.44,440.92 257.16,440.73 257.89,440.67 258.61,441.00 259.33,440.74 260.05,440.97 260.77,440.70 261.49,440.77 262.21,440.60 262.94,440.81 263.66,440.97 264.38,440.70 265.10,440.81 265.82,441.00 266.54,440.71 267.26,440.73 267.99,440.85 268.71,440.93 269.43,440.59 270.15,440.76 270.87,440.51 271.59,440.44 272.31,440.85 273.04,440.46 273.76,440.80 274.48,440.77 275.20,440.72 275.90,438.84 276.60,436.90 277.30,434.81 278.00,432.95 278.72,430.39 279.43,428.25 280.15,425.82 280.87,423.38 281.58,420.64 282.30,418.32 283.04,416.52 283.78,415.10 284.52,413.47 285.26,411.94 286.00,410.16 286.82,409.40 287.65,408.71 288.48,407.65 289.30,407.11 290.20,407.50 291.10,408.25 292.00,408.79 292.75,409.93 293.50,410.30 294.25,411.42 295.00,412.26 295.87,413.32 296.73,414.77 297.60,415.71 298.40,418.05 299.20,420.34 300.00,422.73 300.77,425.83 301.53,429.37 302.30,432.21 303.20,434.27 304.10,436.02 305.00,437.79 306.00,439.52 307.00,441.02 307.71,441.39 308.42,441.16 309.13,441.21 309.84,441.20 310.55,441.22 311.26,441.14 311.97,441.01 312.68,440.91 313.39,441.26 314.11,440.97 314.82,441.03 315.53,441.22 316.24,441.13 316.95,441.29 317.66,441.24 318.37,441.08 319.08,440.84 319.79,441.02 320.50,440.99" stroke="#1a1a1a" stroke-width="1.0" fill="none" stroke-linejoin="round" stroke-dasharray="3.2,2.0,0.9,2.0"/>
<polyline points="404.50,497.10 405.10,497.19 405.94,497.31 406.94,497.46 408.00,497.62 409.05,497.80 410.00,498.00 410.89,498.22 411.78,498.47 412.66,498.74 413.50,499.01 414.29,499.27 415.00,499.50 415.62,499.72 416.15,499.94 416.62,500.16 417.07,500.33 417.52,500.45 418.00,500.50 418.51,500.47 419.03,500.37 419.55,500.22 420.06,500.02 420.54,499.78 421.00,499.50 421.42,499.22 421.80,498.95 422.16,498.63 422.51,498.23 422.87,497.70 423.25,497.01 423.66,496.11 424.07,495.05 424.50,493.86 424.93,492.59 425.34,491.30 425.75,490.02 426.14,488.78 426.53,487.52 426.91,486.23 427.28,484.90 427.64,483.52 428.00,482.07 428.35,480.52 428.69,478.87 429.02,477.17 429.34,475.46 429.67,473.78 430.00,472.17 430.33,470.61 430.67,469.07 431.00,467.56 431.33,466.10 431.67,464.69 432.00,463.35 432.33,462.07 432.67,460.84 433.00,459.67 433.33,458.56 433.67,457.54 434.00,456.62 434.33,455.80 434.67,455.08 435.00,454.44 435.33,453.87 435.67,453.38 436.00,452.94 436.33,452.58 436.67,452.30 437.00,452.09 437.33,451.94 437.67,451.81 438.00,451.70 438.33,451.60 438.67,451.54 439.00,451.50 439.33,451.50 439.67,451.53 440.00,451.60 440.33,451.70 440.67,451.84 441.00,452.00 441.33,452.20 441.67,452.44 442.00,452.70 442.33,452.99 442.67,453.31 443.00,453.66 443.33,454.04 443.67,454.47 444.00,454.94 444.34,455.44 444.68,455.98 445.02,456.56 445.35,457.19 445.68,457.87 446.00,458.62 446.31,459.44 446.61,460.30 446.91,461.23 447.19,462.21 447.48,463.25 447.75,464.35 448.01,465.52 448.26,466.76 448.50,468.06 448.74,469.41 448.99,470.78 449.25,472.17 449.52,473.60 449.81,475.09 450.09,476.61 450.39,478.13 450.69,479.63 451.00,481.07 451.32,482.47 451.65,483.86 451.98,485.23 452.32,486.55 452.66,487.82 453.00,489.02 453.33,490.18 453.67,491.31 454.00,492.39 454.33,493.38 454.67,494.26 455.00,495.01 455.32,495.58 455.63,496.00 455.94,496.32 456.26,496.56 456.61,496.77 457.00,497.00 457.42,497.24 457.85,497.45 458.31,497.63 458.81,497.78 459.37,497.90 460.00,498.00 460.72,498.06 461.52,498.07 462.38,498.06 463.26,498.04 464.14,498.01 465.00,498.00 465.83,497.99 466.67,497.96 467.50,497.94 468.33,497.93 469.17,497.94 470.00,498.00 470.83,498.11 471.67,498.26 472.50,498.44 473.33,498.63 474.17,498.82 475.00,499.00 475.84,499.17 476.70,499.33 477.56,499.50 478.41,499.67 479.22,499.83 480.00,500.00 480.73,500.19 481.43,500.41 482.11,500.63 482.76,500.82 483.39,500.95 484.00,501.00 484.59,500.96 485.15,500.85 485.69,500.69 486.23,500.48 486.76,500.25 487.30,500.01 487.87,499.78 488.45,499.54 489.03,499.28 489.60,498.97 490.13,498.57 490.60,498.07 491.01,497.46 491.36,496.78 491.68,496.01 491.98,495.16 492.28,494.23 492.60,493.22 492.93,492.11 493.27,490.89 493.60,489.59 493.93,488.24 494.27,486.87 494.60,485.50 494.93,484.12 495.27,482.72 495.60,481.30 495.93,479.86 496.27,478.39 496.60,476.89 496.93,475.33 497.27,473.70 497.60,472.03 497.93,470.40 498.27,468.86 498.60,467.45 498.93,466.18 499.27,465.00 499.60,463.90 499.93,462.88 500.27,461.95 500.60,461.10 500.93,460.33 501.27,459.65 501.60,459.06 501.93,458.54 502.27,458.09 502.60,457.69 502.93,457.38 503.27,457.15 503.60,456.98 503.93,456.87 504.27,456.79 504.60,456.73 504.93,456.70 505.27,456.72 505.60,456.77 505.93,456.85 506.27,456.95 506.60,457.06 506.93,457.17 507.27,457.30 507.60,457.44 507.93,457.61 508.27,457.81 508.60,458.06 508.93,458.34 509.27,458.65 509.60,458.99 509.93,459.37 510.27,459.79 510.60,460.23 510.93,460.71 511.27,461.21 511.60,461.74 511.93,462.32 512.27,462.95 512.60,463.64 512.93,464.39 513.27,465.19 513.60,466.04 513.93,466.95 514.27,467.91 514.60,468.94 514.93,470.03 515.27,471.19 515.60,472.41 515.93,473.67 516.27,474.96 516.60,476.27 516.93,477.63 517.27,479.04 517.60,480.49 517.93,481.93 518.27,483.36 518.60,484.73 518.93,486.10 519.27,487.48 519.60,488.84 519.93,490.13 520.27,491.32 520.60,492.36 520.93,493.23 521.27,493.98 521.60,494.62 521.93,495.17 522.27,495.68 522.60,496.16 522.94,496.61 523.30,496.99 523.66,497.33 524.00,497.61 524.32,497.86 524.60,498.07 524.79,498.24 524.90,498.35 524.98,498.42 525.09,498.47 525.30,498.49 525.65,498.51 526.12,498.52 526.65,498.51 527.27,498.48 528.01,498.44 528.91,498.38 530.00,498.30 531.34,498.18 532.90,498.01 534.62,497.82 536.43,497.65 538.25,497.54 540.00,497.50 541.78,497.57 543.66,497.72 545.55,497.92 547.35,498.14 548.99,498.35 550.35,498.51 551.41,498.66 552.24,498.82 552.90,498.96 553.44,499.07 553.92,499.11 554.40,499.05 554.85,498.93 555.22,498.77 555.53,498.55 555.81,498.22 556.09,497.76 556.40,497.13 556.73,496.32 557.07,495.34 557.40,494.22 557.73,493.00 558.07,491.69 558.40,490.34 558.73,488.90 559.07,487.33 559.40,485.69 559.73,484.01 560.07,482.33 560.40,480.70 560.73,479.08 561.07,477.44 561.40,475.80 561.73,474.20 562.07,472.66 562.40,471.20 562.73,469.81 563.07,468.49 563.40,467.22 563.73,466.01 564.07,464.87 564.40,463.81 564.73,462.82 565.07,461.90 565.40,461.04 565.73,460.26 566.07,459.56 566.40,458.94 566.73,458.42 567.07,458.00 567.40,457.65 567.73,457.37 568.07,457.14 568.40,456.94 568.73,456.79 569.07,456.70 569.40,456.66 569.73,456.66 570.07,456.67 570.40,456.69 570.73,456.71 571.07,456.73 571.40,456.78 571.73,456.85 572.07,456.96 572.40,457.10 572.73,457.28 573.07,457.48 573.40,457.72 573.73,458.00 574.07,458.33 574.40,458.71 574.73,459.15 575.07,459.64 575.40,460.19 575.73,460.78 576.07,461.43 576.40,462.13 576.73,462.88 577.07,463.69 577.40,464.56 577.73,465.48 578.07,466.45 578.40,467.49 578.73,468.61 579.07,469.81 579.40,471.07 579.73,472.37 580.07,473.66 580.40,474.94 580.73,476.20 581.07,477.49 581.40,478.78 581.73,480.06 582.07,481.31 582.40,482.53 582.73,483.73 583.07,484.91 583.40,486.07 583.73,487.20 584.07,488.27 584.40,489.27 584.73,490.23 585.07,491.15 585.40,492.03 585.73,492.83 586.07,493.54 586.40,494.12 586.73,494.57 587.06,494.90 587.38,495.12 587.71,495.29 588.05,495.42 588.40,495.57 588.74,495.70 589.07,495.79 589.41,495.86 589.77,495.91 590.20,495.96 590.70,496.02 591.29,496.10 591.96,496.18 592.68,496.26 593.44,496.34 594.22,496.42 595.00,496.50 595.79,496.58 596.61,496.66 597.46,496.75 598.31,496.83 599.16,496.92 600.00,497.00 600.81,497.08 601.59,497.15 602.38,497.22 603.19,497.30 604.05,497.39 605.00,497.50 606.07,497.64 607.25,497.81 608.48,498.00 609.71,498.18 610.91,498.36 612.00,498.50 613.02,498.63 614.02,498.76 614.97,498.88 615.85,498.97 616.65,499.02 617.35,499.01 617.92,498.98 618.37,498.94 618.73,498.86 619.05,498.71 619.36,498.45 619.70,498.04 620.05,497.52 620.39,496.92 620.72,496.20 621.05,495.36 621.37,494.34 621.70,493.14 622.03,491.70 622.37,490.02 622.70,488.18 623.03,486.25 623.37,484.29 623.70,482.37 624.03,480.48 624.37,478.56 624.70,476.62 625.03,474.65 625.37,472.66 625.70,470.63 626.03,468.54 626.37,466.39 626.70,464.21 627.03,462.03 627.37,459.91 627.70,457.88 628.03,455.91 628.37,453.96 628.70,452.07 629.03,450.25 629.37,448.55 629.70,446.98 630.03,445.57 630.37,444.27 630.70,443.08 631.03,442.00 631.37,441.02 631.70,440.12 632.03,439.33 632.37,438.65 632.70,438.06 633.03,437.56 633.37,437.13 633.70,436.75 634.03,436.43 634.37,436.18 634.70,436.00 635.03,435.89 635.37,435.82 635.70,435.80 636.03,435.83 636.37,435.90 636.70,436.03 637.03,436.22 637.37,436.46 637.70,436.75 638.03,437.09 638.37,437.47 638.70,437.91 639.03,438.41 639.37,438.98 639.70,439.62 640.03,440.34 640.37,441.13 640.70,441.99 641.03,442.92 641.37,443.91 641.70,444.98 642.03,446.12 642.37,447.32 642.70,448.59 643.03,449.94 643.37,451.37 643.70,452.88 644.03,454.52 644.37,456.26 644.70,458.09 645.03,459.97 645.37,461.87 645.70,463.77 646.03,465.69 646.37,467.66 646.70,469.65 647.03,471.64 647.37,473.60 647.70,475.51 648.03,477.38 648.37,479.24 648.70,481.08 649.03,482.87 649.37,484.61 649.70,486.28 650.03,487.93 650.37,489.57 650.70,491.15 651.03,492.63 651.37,493.97 651.70,495.10 652.04,496.01 652.38,496.73 652.72,497.31 653.06,497.77 653.39,498.16 653.70,498.53 654.00,498.86 654.28,499.11 654.55,499.29 654.81,499.42 655.08,499.49 655.35,499.51 655.61,499.46 655.85,499.34 656.09,499.16 656.35,498.95 656.65,498.72 657.00,498.50 657.43,498.26 657.94,497.96 658.48,497.66 659.02,497.37 659.54,497.14 660.00,497.00 660.37,496.97 660.67,497.02 660.94,497.12 661.22,497.26 661.56,497.39 662.00,497.50 662.60,497.59 663.33,497.69 664.12,497.78 664.89,497.87 665.54,497.95 666.00,498.00" stroke="#4F70C2" stroke-width="1.0" fill="none" stroke-linejoin="round" />
<polyline points="404.50,498.00 405.10,498.11 405.94,498.26 406.94,498.44 408.00,498.63 409.05,498.82 410.00,499.00 410.89,499.16 411.78,499.31 412.66,499.47 413.50,499.63 414.29,499.80 415.00,500.00 415.62,500.25 416.15,500.56 416.62,500.88 417.07,501.17 417.52,501.39 418.00,501.50 418.51,501.51 419.03,501.44 419.55,501.31 420.06,501.11 420.54,500.84 421.00,500.50 421.42,500.09 421.80,499.61 422.16,499.06 422.51,498.44 422.87,497.76 423.25,497.00 423.66,496.18 424.07,495.30 424.50,494.34 424.93,493.31 425.34,492.20 425.75,491.00 426.14,489.67 426.53,488.22 426.91,486.69 427.28,485.11 427.64,483.53 428.00,482.00 428.35,480.49 428.69,478.96 429.02,477.44 429.34,475.93 429.67,474.44 430.00,473.00 430.33,471.57 430.67,470.15 431.00,468.75 431.33,467.41 431.67,466.15 432.00,465.00 432.33,463.94 432.67,462.94 433.00,462.03 433.33,461.22 433.67,460.54 434.00,460.00 434.33,459.65 434.67,459.49 435.00,459.45 435.33,459.48 435.67,459.51 436.00,459.50 436.33,459.43 436.67,459.36 437.00,459.29 437.33,459.25 437.67,459.25 438.00,459.30 438.33,459.42 438.67,459.59 439.00,459.79 439.33,460.03 439.67,460.27 440.00,460.50 440.33,460.74 440.67,461.00 441.00,461.26 441.33,461.53 441.67,461.78 442.00,462.00 442.33,462.19 442.67,462.35 443.00,462.50 443.33,462.65 443.67,462.81 444.00,463.00 444.34,463.20 444.68,463.39 445.02,463.59 445.35,463.83 445.68,464.13 446.00,464.50 446.31,464.93 446.61,465.39 446.91,465.91 447.19,466.50 447.48,467.19 447.75,468.00 448.01,468.95 448.26,470.04 448.50,471.22 448.74,472.46 448.99,473.73 449.25,475.00 449.52,476.28 449.81,477.59 450.09,478.94 450.39,480.30 450.69,481.66 451.00,483.00 451.32,484.36 451.65,485.74 451.98,487.12 452.32,488.48 452.66,489.78 453.00,491.00 453.33,492.15 453.67,493.26 454.00,494.31 454.33,495.30 454.67,496.20 455.00,497.00 455.32,497.70 455.63,498.31 455.94,498.84 456.26,499.30 456.61,499.68 457.00,500.00 457.42,500.25 457.85,500.41 458.31,500.50 458.81,500.54 459.37,500.53 460.00,500.50 460.72,500.41 461.52,500.24 462.38,500.03 463.26,499.81 464.14,499.63 465.00,499.50 465.78,499.42 466.48,499.35 467.19,499.31 467.96,499.31 468.88,499.37 470.00,499.50 471.45,499.73 473.19,500.06 475.06,500.44 476.93,500.83 478.62,501.20 480.00,501.50 481.02,501.75 481.80,501.98 482.42,502.19 482.94,502.35 483.44,502.46 484.00,502.50 484.59,502.47 485.15,502.37 485.69,502.22 486.23,502.02 486.76,501.78 487.30,501.50 487.87,501.20 488.45,500.87 489.03,500.50 489.60,500.08 490.13,499.59 490.60,499.02 491.01,498.37 491.36,497.64 491.68,496.84 491.98,495.99 492.28,495.08 492.60,494.12 492.93,493.10 493.27,492.01 493.60,490.87 493.93,489.69 494.27,488.48 494.60,487.26 494.93,486.02 495.27,484.76 495.60,483.46 495.93,482.14 496.27,480.79 496.60,479.42 496.93,477.96 497.27,476.41 497.60,474.83 497.93,473.29 498.27,471.85 498.60,470.60 498.93,469.53 499.27,468.59 499.60,467.75 499.93,467.01 500.27,466.33 500.60,465.70 500.93,465.13 501.27,464.63 501.60,464.20 501.93,463.83 502.27,463.52 502.60,463.25 502.93,463.05 503.27,462.92 503.60,462.85 503.93,462.81 504.27,462.79 504.60,462.76 504.93,462.73 505.27,462.71 505.60,462.70 505.93,462.71 506.27,462.73 506.60,462.76 506.93,462.80 507.27,462.85 507.60,462.91 507.93,463.00 508.27,463.11 508.60,463.25 508.93,463.42 509.27,463.61 509.60,463.83 509.93,464.08 510.27,464.38 510.60,464.72 510.93,465.10 511.27,465.52 511.60,465.98 511.93,466.48 512.27,467.04 512.60,467.66 512.93,468.34 513.27,469.08 513.60,469.87 513.93,470.71 514.27,471.61 514.60,472.56 514.93,473.58 515.27,474.67 515.60,475.81 515.93,476.99 516.27,478.20 516.60,479.42 516.93,480.68 517.27,482.00 517.60,483.34 517.93,484.68 518.27,486.00 518.60,487.26 518.93,488.48 519.27,489.69 519.60,490.87 519.93,492.01 520.27,493.10 520.60,494.12 520.93,495.08 521.27,496.01 521.60,496.88 521.93,497.68 522.27,498.40 522.60,499.02 522.94,499.54 523.30,499.97 523.66,500.32 524.00,500.59 524.32,500.82 524.60,501.00 524.79,501.13 524.90,501.18 524.98,501.19 525.09,501.15 525.30,501.08 525.65,501.00 526.12,500.89 526.65,500.72 527.27,500.53 528.01,500.33 528.91,500.15 530.00,500.00 531.34,499.87 532.90,499.74 534.62,499.62 536.43,499.54 538.25,499.49 540.00,499.50 541.78,499.60 543.66,499.78 545.55,500.00 547.35,500.22 548.99,500.40 550.35,500.50 551.41,500.53 552.24,500.54 552.90,500.50 553.44,500.41 553.92,500.24 554.40,500.00 554.85,499.69 555.22,499.34 555.53,498.92 555.81,498.40 556.09,497.78 556.40,497.03 556.73,496.14 557.07,495.12 557.40,494.00 557.73,492.78 558.07,491.47 558.40,490.10 558.73,488.62 559.07,487.02 559.40,485.34 559.73,483.61 560.07,481.88 560.40,480.20 560.73,478.52 561.07,476.79 561.40,475.06 561.73,473.38 562.07,471.78 562.40,470.30 562.73,468.92 563.07,467.59 563.40,466.34 563.73,465.20 564.07,464.20 564.40,463.37 564.73,462.72 565.07,462.23 565.40,461.88 565.73,461.65 566.07,461.49 566.40,461.39 566.73,461.37 567.07,461.46 567.40,461.64 567.73,461.87 568.07,462.12 568.40,462.38 568.73,462.66 569.07,462.99 569.40,463.34 569.73,463.70 570.07,464.05 570.40,464.36 570.73,464.64 571.07,464.91 571.40,465.16 571.73,465.41 572.07,465.63 572.40,465.85 572.73,466.03 573.07,466.18 573.40,466.31 573.73,466.45 574.07,466.62 574.40,466.83 574.73,467.09 575.07,467.37 575.40,467.67 575.73,468.01 576.07,468.39 576.40,468.81 576.73,469.28 577.07,469.77 577.40,470.30 577.73,470.89 578.07,471.54 578.40,472.28 578.73,473.12 579.07,474.04 579.40,475.03 579.73,476.08 580.07,477.14 580.40,478.22 580.73,479.33 581.07,480.49 581.40,481.68 581.73,482.88 582.07,484.04 582.40,485.15 582.73,486.23 583.07,487.29 583.40,488.34 583.73,489.33 584.07,490.25 584.40,491.09 584.73,491.82 585.07,492.46 585.40,493.04 585.73,493.57 586.07,494.06 586.40,494.56 586.73,495.04 587.06,495.51 587.38,495.95 587.71,496.35 588.05,496.72 588.40,497.03 588.74,497.27 589.07,497.45 589.41,497.58 589.77,497.70 590.20,497.83 590.70,498.01 591.29,498.24 591.96,498.51 592.68,498.78 593.44,499.06 594.22,499.30 595.00,499.50 595.79,499.64 596.61,499.74 597.46,499.81 598.31,499.87 599.16,499.93 600.00,500.00 600.81,500.08 601.59,500.15 602.38,500.22 603.19,500.30 604.05,500.39 605.00,500.50 606.07,500.66 607.25,500.85 608.48,501.06 609.71,501.26 610.91,501.41 612.00,501.50 613.02,501.52 614.02,501.50 614.97,501.44 615.85,501.33 616.65,501.19 617.35,501.00 617.92,500.79 618.37,500.56 618.73,500.29 619.05,499.95 619.36,499.54 619.70,499.02 620.05,498.43 620.39,497.78 620.72,497.06 621.05,496.22 621.37,495.25 621.70,494.12 622.03,492.78 622.37,491.25 622.70,489.59 623.03,487.84 623.37,486.07 623.70,484.32 624.03,482.58 624.37,480.80 624.70,478.99 625.03,477.17 625.37,475.35 625.70,473.54 626.03,471.73 626.37,469.92 626.70,468.10 627.03,466.29 627.37,464.51 627.70,462.76 628.03,461.01 628.37,459.23 628.70,457.48 629.03,455.80 629.37,454.22 629.70,452.80 630.03,451.53 630.37,450.38 630.70,449.33 631.03,448.39 631.37,447.55 631.70,446.80 632.03,446.15 632.37,445.61 632.70,445.18 633.03,444.82 633.37,444.53 633.70,444.30 634.03,444.14 634.37,444.06 634.70,444.05 635.03,444.10 635.37,444.18 635.70,444.30 636.03,444.45 636.37,444.63 636.70,444.86 637.03,445.13 637.37,445.45 637.70,445.80 638.03,446.18 638.37,446.58 638.70,447.02 639.03,447.52 639.37,448.11 639.70,448.80 640.03,449.59 640.37,450.47 640.70,451.43 641.03,452.47 641.37,453.60 641.70,454.80 642.03,456.10 642.37,457.49 642.70,458.97 643.03,460.51 643.37,462.11 643.70,463.74 644.03,465.43 644.37,467.20 644.70,469.01 645.03,470.86 645.37,472.70 645.70,474.52 646.03,476.34 646.37,478.19 646.70,480.03 647.03,481.85 647.37,483.62 647.70,485.30 648.03,486.93 648.37,488.53 648.70,490.08 649.03,491.54 649.37,492.90 649.70,494.12 650.03,495.20 650.37,496.15 650.70,497.00 651.03,497.75 651.37,498.42 651.70,499.02 652.04,499.55 652.38,499.99 652.72,500.35 653.06,500.63 653.39,500.85 653.70,501.00 653.98,501.07 654.24,501.05 654.48,500.97 654.74,500.83 655.02,500.67 655.35,500.50 655.74,500.30 656.18,500.04 656.65,499.75 657.13,499.46 657.58,499.20 658.00,499.00 658.36,498.84 658.68,498.70 658.98,498.59 659.28,498.52 659.62,498.48 660.00,498.50 660.44,498.59 660.93,498.74 661.44,498.94 661.96,499.15 662.49,499.34 663.00,499.50 663.53,499.62 664.11,499.72 664.69,499.81 665.22,499.89 665.67,499.95 666.00,500.00" stroke="#58CB50" stroke-width="1.1" fill="none" stroke-linejoin="round" />
<polyline points="404.50,496.10 405.10,496.19 405.94,496.31 406.94,496.46 408.00,496.62 409.05,496.80 410.00,497.00 410.89,497.22 411.78,497.47 412.66,497.74 413.50,498.01 414.29,498.27 415.00,498.50 415.62,498.72 416.15,498.94 416.62,499.16 417.07,499.33 417.52,499.45 418.00,499.50 418.51,499.47 419.03,499.37 419.55,499.22 420.06,499.02 420.54,498.78 421.00,498.50 421.42,498.21 421.80,497.91 422.16,497.56 422.51,497.15 422.87,496.64 423.25,496.00 423.66,495.23 424.07,494.33 424.50,493.34 424.93,492.28 425.34,491.16 425.75,490.00 426.14,488.81 426.53,487.56 426.91,486.25 427.28,484.89 427.64,483.47 428.00,482.00 428.35,480.44 428.69,478.78 429.02,477.06 429.34,475.33 429.67,473.63 430.00,472.00 430.33,470.42 430.67,468.85 431.00,467.31 431.33,465.81 431.67,464.37 432.00,463.00 432.33,461.68 432.67,460.41 433.00,459.19 433.33,458.04 433.67,456.97 434.00,456.00 434.33,455.13 434.67,454.35 435.00,453.66 435.33,453.04 435.67,452.49 436.00,452.00 436.33,451.59 436.67,451.27 437.00,451.01 437.33,450.81 437.67,450.65 438.00,450.50 438.33,450.38 438.67,450.29 439.00,450.23 439.33,450.21 439.67,450.24 440.00,450.30 440.33,450.40 440.67,450.55 441.00,450.73 441.33,450.95 441.67,451.21 442.00,451.50 442.33,451.82 442.67,452.18 443.00,452.57 443.33,453.01 443.67,453.48 444.00,454.00 444.34,454.56 444.68,455.15 445.02,455.78 445.35,456.46 445.68,457.20 446.00,458.00 446.31,458.86 446.61,459.78 446.91,460.75 447.19,461.78 447.48,462.86 447.75,464.00 448.01,465.21 448.26,466.48 448.50,467.81 448.74,469.19 448.99,470.59 449.25,472.00 449.52,473.45 449.81,474.96 450.09,476.50 450.39,478.04 450.69,479.55 451.00,481.00 451.32,482.43 451.65,483.85 451.98,485.25 452.32,486.59 452.66,487.85 453.00,489.00 453.33,490.04 453.67,491.00 454.00,491.88 454.33,492.67 454.67,493.38 455.00,494.00 455.32,494.52 455.63,494.93 455.94,495.25 456.26,495.52 456.61,495.76 457.00,496.00 457.42,496.24 457.85,496.44 458.31,496.62 458.81,496.78 459.37,496.90 460.00,497.00 460.72,497.06 461.52,497.07 462.38,497.06 463.26,497.04 464.14,497.01 465.00,497.00 465.83,496.99 466.67,496.96 467.50,496.94 468.33,496.93 469.17,496.94 470.00,497.00 470.83,497.11 471.67,497.26 472.50,497.44 473.33,497.63 474.17,497.82 475.00,498.00 475.84,498.17 476.70,498.33 477.56,498.50 478.41,498.67 479.22,498.83 480.00,499.00 480.73,499.19 481.43,499.41 482.11,499.62 482.76,499.81 483.39,499.95 484.00,500.00 484.59,499.96 485.15,499.85 485.69,499.69 486.23,499.48 486.76,499.25 487.30,499.01 487.87,498.77 488.45,498.54 489.03,498.28 489.60,497.96 490.13,497.57 490.60,497.06 491.01,496.44 491.36,495.72 491.68,494.92 491.98,494.05 492.28,493.12 492.60,492.16 492.93,491.15 493.27,490.09 493.60,488.98 493.93,487.80 494.27,486.58 494.60,485.30 494.93,483.95 495.27,482.54 495.60,481.07 495.93,479.57 496.27,478.03 496.60,476.48 496.93,474.87 497.27,473.18 497.60,471.46 497.93,469.77 498.27,468.16 498.60,466.68 498.93,465.33 499.27,464.06 499.60,462.88 499.93,461.77 500.27,460.75 500.60,459.80 500.93,458.94 501.27,458.16 501.60,457.46 501.93,456.84 502.27,456.29 502.60,455.80 502.93,455.39 503.27,455.06 503.60,454.80 503.93,454.60 504.27,454.43 504.60,454.30 504.93,454.20 505.27,454.15 505.60,454.14 505.93,454.17 506.27,454.22 506.60,454.30 506.93,454.39 507.27,454.50 507.60,454.64 507.93,454.82 508.27,455.03 508.60,455.30 508.93,455.61 509.27,455.97 509.60,456.36 509.93,456.80 510.27,457.28 510.60,457.80 510.93,458.36 511.27,458.95 511.60,459.58 511.93,460.26 512.27,460.99 512.60,461.78 512.93,462.63 513.27,463.53 513.60,464.48 513.93,465.48 514.27,466.54 514.60,467.66 514.93,468.84 515.27,470.09 515.60,471.40 515.93,472.74 516.27,474.11 516.60,475.50 516.93,476.94 517.27,478.44 517.60,479.97 517.93,481.49 518.27,482.95 518.60,484.32 518.93,485.61 519.27,486.86 519.60,488.06 519.93,489.18 520.27,490.23 520.60,491.18 520.93,492.03 521.27,492.78 521.60,493.45 521.93,494.05 522.27,494.59 522.60,495.10 522.94,495.56 523.30,495.95 523.66,496.30 524.00,496.59 524.32,496.84 524.60,497.06 524.79,497.23 524.90,497.35 524.98,497.42 525.09,497.47 525.30,497.49 525.65,497.51 526.12,497.52 526.65,497.51 527.27,497.48 528.01,497.44 528.91,497.38 530.00,497.30 531.34,497.18 532.90,497.01 534.62,496.82 536.43,496.65 538.25,496.54 540.00,496.50 541.78,496.57 543.66,496.72 545.55,496.92 547.35,497.14 548.99,497.35 550.35,497.51 551.41,497.65 552.24,497.81 552.90,497.95 553.44,498.05 553.92,498.08 554.40,498.02 554.85,497.88 555.22,497.69 555.53,497.43 555.81,497.09 556.09,496.63 556.40,496.04 556.73,495.32 557.07,494.50 557.40,493.57 557.73,492.52 558.07,491.36 558.40,490.10 558.73,488.68 559.07,487.09 559.40,485.40 559.73,483.65 560.07,481.90 560.40,480.20 560.73,478.53 561.07,476.83 561.40,475.13 561.73,473.45 562.07,471.84 562.40,470.30 562.73,468.84 563.07,467.42 563.40,466.06 563.73,464.77 564.07,463.54 564.40,462.38 564.73,461.29 565.07,460.26 565.40,459.30 565.73,458.42 566.07,457.61 566.40,456.90 566.73,456.29 567.07,455.77 567.40,455.34 567.73,454.97 568.07,454.67 568.40,454.40 568.73,454.19 569.07,454.05 569.40,453.96 569.73,453.92 570.07,453.90 570.40,453.90 570.73,453.91 571.07,453.94 571.40,453.99 571.73,454.09 572.07,454.22 572.40,454.40 572.73,454.62 573.07,454.88 573.40,455.18 573.73,455.53 574.07,455.93 574.40,456.40 574.73,456.93 575.07,457.51 575.40,458.15 575.73,458.85 576.07,459.60 576.40,460.40 576.73,461.25 577.07,462.16 577.40,463.12 577.73,464.14 578.07,465.21 578.40,466.34 578.73,467.55 579.07,468.83 579.40,470.18 579.73,471.55 580.07,472.92 580.40,474.26 580.73,475.59 581.07,476.94 581.40,478.28 581.73,479.61 582.07,480.92 582.40,482.18 582.73,483.43 583.07,484.67 583.40,485.89 583.73,487.06 584.07,488.14 584.40,489.11 584.73,489.97 585.07,490.74 585.40,491.43 585.73,492.04 586.07,492.59 586.40,493.07 586.73,493.47 587.06,493.79 587.38,494.03 587.71,494.23 588.05,494.39 588.40,494.56 588.74,494.69 589.07,494.79 589.41,494.85 589.77,494.91 590.20,494.96 590.70,495.02 591.29,495.10 591.96,495.18 592.68,495.26 593.44,495.34 594.22,495.42 595.00,495.50 595.79,495.58 596.61,495.66 597.46,495.75 598.31,495.83 599.16,495.92 600.00,496.00 600.81,496.08 601.59,496.15 602.38,496.22 603.19,496.30 604.05,496.39 605.00,496.50 606.07,496.64 607.25,496.81 608.48,497.00 609.71,497.18 610.91,497.36 612.00,497.50 613.02,497.63 614.02,497.76 614.97,497.88 615.85,497.97 616.65,498.02 617.35,498.02 617.92,497.99 618.37,497.96 618.73,497.88 619.05,497.73 619.36,497.47 619.70,497.06 620.05,496.53 620.39,495.90 620.72,495.16 621.05,494.30 621.37,493.31 621.70,492.16 622.03,490.83 622.37,489.33 622.70,487.69 623.03,485.95 623.37,484.16 623.70,482.36 624.03,480.53 624.37,478.62 624.70,476.67 625.03,474.67 625.37,472.64 625.70,470.60 626.03,468.51 626.37,466.34 626.70,464.15 627.03,461.97 627.37,459.84 627.70,457.80 628.03,455.82 628.37,453.85 628.70,451.94 629.03,450.10 629.37,448.38 629.70,446.80 630.03,445.36 630.37,444.04 630.70,442.83 631.03,441.73 631.37,440.72 631.70,439.80 632.03,438.99 632.37,438.28 632.70,437.68 633.03,437.15 633.37,436.70 633.70,436.30 634.03,435.97 634.37,435.71 634.70,435.52 635.03,435.39 635.37,435.32 635.70,435.30 636.03,435.33 636.37,435.41 636.70,435.55 637.03,435.74 637.37,435.99 637.70,436.30 638.03,436.66 638.37,437.06 638.70,437.52 639.03,438.04 639.37,438.63 639.70,439.30 640.03,440.04 640.37,440.86 640.70,441.74 641.03,442.69 641.37,443.71 641.70,444.80 642.03,445.95 642.37,447.17 642.70,448.46 643.03,449.82 643.37,451.27 643.70,452.80 644.03,454.44 644.37,456.20 644.70,458.04 645.03,459.92 645.37,461.84 645.70,463.74 646.03,465.66 646.37,467.64 646.70,469.63 647.03,471.62 647.37,473.59 647.70,475.50 648.03,477.39 648.37,479.27 648.70,481.13 649.03,482.94 649.37,484.66 649.70,486.28 650.03,487.81 650.37,489.27 650.70,490.66 651.03,491.94 651.37,493.10 651.70,494.12 652.04,494.98 652.38,495.68 652.72,496.26 653.06,496.75 653.39,497.17 653.70,497.55 654.00,497.88 654.28,498.13 654.55,498.31 654.81,498.43 655.08,498.50 655.35,498.51 655.61,498.47 655.85,498.34 656.09,498.16 656.35,497.95 656.65,497.72 657.00,497.50 657.43,497.25 657.94,496.96 658.48,496.66 659.02,496.37 659.54,496.14 660.00,496.00 660.37,495.97 660.67,496.02 660.94,496.12 661.22,496.26 661.56,496.39 662.00,496.50 662.60,496.59 663.33,496.69 664.12,496.78 664.89,496.87 665.54,496.95 666.00,497.00" stroke="#F5D57A" stroke-width="1.15" fill="none" stroke-linejoin="round" />
<polyline points="404.50,500.35 405.25,500.69 406.00,501.86 406.75,493.00 407.50,493.00 408.25,500.78 409.00,499.49 409.75,492.00 410.50,492.00 411.25,501.44 412.00,499.20 412.75,499.87 413.50,499.19 414.25,501.49 415.00,501.12 415.75,499.03 416.50,502.04 417.25,501.99 418.00,500.99 418.75,500.87 419.50,499.40 420.25,498.95 421.00,500.59 421.75,499.09 422.70,498.60 423.10,492.80 424.70,481.20 426.60,458.00 428.50,429.00 429.80,410.00 430.50,400.00 431.20,391.10 432.80,366.80 434.20,346.60 436.30,328.30 438.50,318.00 440.30,310.10 442.30,318.20 444.40,338.50 446.40,354.70 447.40,360.70 448.00,376.90 449.00,391.10 449.80,410.00 450.80,415.50 451.80,438.70 453.10,458.00 454.30,477.40 455.60,490.90 457.20,499.60 458.00,500.42 458.75,501.00 459.50,501.03 460.25,499.36 461.00,498.93 461.75,484.00 462.50,484.00 463.25,484.00 464.00,501.11 464.75,500.82 465.50,496.00 466.25,496.00 467.00,499.36 467.75,500.31 468.50,499.42 469.25,501.80 470.00,499.09 470.75,501.52 471.50,499.14 472.25,501.10 473.00,499.98 473.75,500.19 474.50,501.60 475.25,498.96 476.00,499.09 476.75,501.83 477.50,500.53 478.25,499.19 479.00,502.06 479.75,501.93 480.50,499.26 481.25,500.25 482.00,499.33 482.75,499.90 483.50,500.89 484.25,499.42 485.00,501.13 485.75,499.06 486.50,499.45 487.25,501.51 488.00,500.18 488.75,500.24 489.70,496.20 491.10,480.00 493.10,455.70 495.20,425.40 496.60,395.00 497.50,376.70 499.10,356.00 501.00,335.40 502.60,318.90 505.70,310.70 507.30,305.00 507.80,296.50 508.30,306.00 508.80,308.60 509.80,325.10 511.30,343.70 512.90,366.40 513.30,372.50 514.50,400.00 516.00,425.40 518.00,449.70 519.40,476.00 520.90,492.20 522.50,498.20 523.00,499.73 523.75,501.09 524.50,501.09 525.25,494.00 526.00,494.00 526.75,494.00 527.50,499.37 528.25,499.62 529.00,501.25 529.75,499.32 530.50,500.60 531.25,499.58 532.00,499.84 532.75,500.28 533.50,493.00 534.25,493.00 535.00,498.95 535.75,499.78 536.50,499.37 537.25,501.69 538.00,501.49 538.75,501.48 539.50,501.54 540.25,501.28 541.00,501.94 541.75,501.44 542.50,494.00 543.25,494.00 544.00,500.46 544.75,501.32 545.50,500.71 546.25,500.27 547.00,500.07 547.75,500.28 548.50,499.90 549.25,499.28 550.00,501.52 550.75,501.45 551.50,502.05 552.25,501.11 553.00,500.67 553.75,501.29 554.10,496.20 555.10,488.10 557.10,465.90 559.20,435.50 561.10,400.00 562.90,374.60 564.60,351.90 566.20,329.20 567.60,312.70 570.30,297.30 572.40,316.90 573.80,303.50 575.90,325.10 577.30,349.90 579.00,376.70 580.00,400.00 580.80,407.10 582.40,435.50 584.10,461.80 585.50,486.10 586.50,491.00 587.50,490.10 589.50,500.30 591.50,500.30 593.00,494.20 594.00,499.24 594.75,495.00 595.50,495.00 596.25,501.91 597.00,499.77 597.75,499.72 598.50,501.25 599.25,501.01 600.00,499.87 600.75,501.09 601.50,500.17 602.25,501.39 603.00,499.28 603.75,499.61 604.50,501.78 605.25,500.05 606.00,499.73 606.75,501.47 607.50,500.92 608.25,499.38 609.00,500.66 609.75,501.02 610.50,499.43 611.25,497.00 612.00,497.00 612.75,497.00 613.50,496.00 614.25,496.00 615.00,502.03 615.75,500.19 616.50,502.07 617.25,500.30 618.00,500.84 618.75,501.69 619.50,501.10 620.50,494.20 622.10,480.00 624.10,455.70 626.20,425.40 627.90,400.00 629.10,374.60 630.60,351.90 632.00,333.40 633.60,318.90 635.70,311.10 638.40,318.90 640.90,333.40 642.90,349.90 644.00,370.50 645.40,400.00 646.80,425.40 648.40,451.70 650.10,476.00 651.50,490.10 653.50,498.20 654.00,501.99 654.75,498.94 655.50,501.26 656.25,499.41 657.00,502.06 657.75,498.95 658.50,497.00 659.25,497.00 660.00,501.64 660.75,496.50 661.50,496.50 662.25,499.98 663.00,501.17 663.75,499.80 664.50,499.74 665.25,499.63 666.00,501.65" stroke="#1a1a1a" stroke-width="1.0" fill="none" stroke-linejoin="round" stroke-dasharray="3.2,2.0,0.9,2.0"/>
<rect x="44.6" y="288.4" width="288.90" height="230.60" fill="none" stroke="#8a8a8a" stroke-width="1.15"/>
<rect x="392.1" y="286.5" width="287.20" height="226.70" fill="none" stroke="#8a8a8a" stroke-width="1.15"/>
<line x1="41.80" y1="308.07" x2="44.60" y2="308.07" stroke="#333" stroke-width="1"/>
<text x="39.60" y="311.77" text-anchor="end" font-size="9.5" fill="#222" stroke="#222">1.0</text>
<line x1="41.80" y1="374.63" x2="44.60" y2="374.63" stroke="#333" stroke-width="1"/>
<text x="39.60" y="378.33" text-anchor="end" font-size="9.5" fill="#222" stroke="#222">0.5</text>
<line x1="41.80" y1="441.20" x2="44.60" y2="441.20" stroke="#333" stroke-width="1"/>
<text x="39.60" y="444.90" text-anchor="end" font-size="9.5" fill="#222" stroke="#222">0.0</text>
<line x1="41.80" y1="507.76" x2="44.60" y2="507.76" stroke="#333" stroke-width="1"/>
<text x="39.60" y="511.46" text-anchor="end" font-size="9.5" fill="#222" stroke="#222">-0.5</text>
<line x1="57.45" y1="519.0" x2="57.45" y2="521.5" stroke="#333" stroke-width="1"/>
<text x="57.45" y="530.7" text-anchor="middle" font-size="9.6" fill="#222" stroke="#222">22 Feb</text>
<line x1="123.25" y1="519.0" x2="123.25" y2="521.5" stroke="#333" stroke-width="1"/>
<text x="123.25" y="530.7" text-anchor="middle" font-size="9.6" fill="#222" stroke="#222">23 Feb</text>
<line x1="189.05" y1="519.0" x2="189.05" y2="521.5" stroke="#333" stroke-width="1"/>
<text x="189.05" y="530.7" text-anchor="middle" font-size="9.6" fill="#222" stroke="#222">24 Feb</text>
<line x1="254.85" y1="519.0" x2="254.85" y2="521.5" stroke="#333" stroke-width="1"/>
<text x="254.85" y="530.7" text-anchor="middle" font-size="9.6" fill="#222" stroke="#222">25 Feb</text>
<line x1="389.30" y1="501.95" x2="392.10" y2="501.95" stroke="#333" stroke-width="1"/>
<text x="387.10" y="505.65" text-anchor="end" font-size="9.5" fill="#222" stroke="#222">0.0</text>
<line x1="389.30" y1="427.25" x2="392.10" y2="427.25" stroke="#333" stroke-width="1"/>
<text x="387.10" y="430.95" text-anchor="end" font-size="9.5" fill="#222" stroke="#222">0.1</text>
<line x1="389.30" y1="352.55" x2="392.10" y2="352.55" stroke="#333" stroke-width="1"/>
<text x="387.10" y="356.25" text-anchor="end" font-size="9.5" fill="#222" stroke="#222">0.2</text>
<line x1="404.80" y1="513.2" x2="404.80" y2="515.7" stroke="#333" stroke-width="1"/>
<text x="404.80" y="524.8" text-anchor="middle" font-size="9.6" fill="#222" stroke="#222">22 Feb</text>
<line x1="470.33" y1="513.2" x2="470.33" y2="515.7" stroke="#333" stroke-width="1"/>
<text x="470.33" y="524.8" text-anchor="middle" font-size="9.6" fill="#222" stroke="#222">23 Feb</text>
<line x1="535.86" y1="513.2" x2="535.86" y2="515.7" stroke="#333" stroke-width="1"/>
<text x="535.86" y="524.8" text-anchor="middle" font-size="9.6" fill="#222" stroke="#222">24 Feb</text>
<line x1="601.39" y1="513.2" x2="601.39" y2="515.7" stroke="#333" stroke-width="1"/>
<text x="601.39" y="524.8" text-anchor="middle" font-size="9.6" fill="#222" stroke="#222">25 Feb</text>
<text x="179.42" y="541.75" font-size="9.90" font-weight="normal" textLength="19.18" lengthAdjust="spacingAndGlyphs" fill="#111" stroke="#111">Date</text>
<text x="526.50" y="535.75" font-size="9.45" font-weight="normal" textLength="17.85" lengthAdjust="spacingAndGlyphs" fill="#111" stroke="#111">Date</text>
<text transform="translate(20.3,399.7) rotate(-90)" text-anchor="middle" font-size="13.4" fill="#111" stroke="#111" textLength="110.5" lengthAdjust="spacingAndGlyphs">ET<tspan font-size="8.84" dy="3">r</tspan><tspan dy="-3"> (mm m</tspan><tspan font-size="8.84" dy="-5">-2</tspan><tspan dy="5"> 15min</tspan><tspan font-size="8.84" dy="-5">-1</tspan><tspan dy="5">)</tspan></text>
<text transform="translate(369.9,399.6) rotate(-90)" text-anchor="middle" font-size="13.4" fill="#111" stroke="#111" textLength="110.5" lengthAdjust="spacingAndGlyphs">ET<tspan font-size="8.84" dy="3">r</tspan><tspan dy="-3"> (mm m</tspan><tspan font-size="8.84" dy="-5">-2</tspan><tspan dy="5"> 15min</tspan><tspan font-size="8.84" dy="-5">-1</tspan><tspan dy="5">)</tspan></text>
<line x1="44.7" y1="296.9" x2="63.1" y2="296.9" stroke="#8CC66F" stroke-width="2"/>
<line x1="117.9" y1="295.1" x2="135.9" y2="295.1" stroke="#3C88CC" stroke-width="2"/>
<line x1="207.1" y1="295.0" x2="225.2" y2="295.0" stroke="#F7C23A" stroke-width="2"/>
<line x1="295" y1="294.4" x2="313.2" y2="294.4" stroke="#111" stroke-width="1.4" stroke-dasharray="4.9,3.9,1.2,4.2,4.2,10"/>
<text x="67.00" y="298.90" font-size="10.50" font-weight="bold" textLength="45.62" lengthAdjust="spacingAndGlyphs" fill="#111" stroke="#111">Wild (G5)</text>
<text x="140.00" y="298.90" font-size="10.50" font-weight="bold" textLength="62.21" lengthAdjust="spacingAndGlyphs" fill="#111" stroke="#111">HighTE (G28)</text>
<text x="229.84" y="298.90" font-size="10.50" font-weight="bold" textLength="59.76" lengthAdjust="spacingAndGlyphs" fill="#111" stroke="#111">LowTE (G34)</text>
<text x="317.60" y="298.40" font-size="10.50" font-weight="bold" textLength="10.60" lengthAdjust="spacingAndGlyphs" fill="#111" stroke="#111">ET</text>
<line x1="392.0" y1="296.8" x2="410.40000000000003" y2="296.8" stroke="#8CC66F" stroke-width="2"/>
<line x1="465.20000000000005" y1="295.0" x2="483.20000000000005" y2="295.0" stroke="#3C88CC" stroke-width="2"/>
<line x1="554.4" y1="294.9" x2="572.5" y2="294.9" stroke="#F7C23A" stroke-width="2"/>
<line x1="642.3" y1="294.3" x2="660.5" y2="294.3" stroke="#111" stroke-width="1.4" stroke-dasharray="4.9,3.9,1.2,4.2,4.2,10"/>
<text x="414.68" y="298.50" font-size="10.50" font-weight="bold" textLength="45.34" lengthAdjust="spacingAndGlyphs" fill="#111" stroke="#111">Wild (G5)</text>
<text x="486.84" y="298.50" font-size="10.50" font-weight="bold" textLength="61.89" lengthAdjust="spacingAndGlyphs" fill="#111" stroke="#111">HighTE (G28)</text>
<text x="576.76" y="298.50" font-size="10.50" font-weight="bold" textLength="60.26" lengthAdjust="spacingAndGlyphs" fill="#111" stroke="#111">LowTE (G34)</text>
<text x="664.50" y="298.30" font-size="10.50" font-weight="bold" textLength="10.60" lengthAdjust="spacingAndGlyphs" fill="#111" stroke="#111">ET</text>
<text x="328.3" y="300.6" font-size="7.3" font-weight="bold" fill="#111" stroke="#111">o</text>
<text x="675.3" y="300.6" font-size="7.3" font-weight="bold" fill="#111" stroke="#111">o</text>
<text x="7.00" y="294.20" font-size="16.60" font-weight="bold" fill="#000" stroke="#000">b</text>
<text x="369.66" y="292.70" font-size="15.50" font-weight="bold" fill="#000" stroke="#000">c</text>
</svg></body></html>
